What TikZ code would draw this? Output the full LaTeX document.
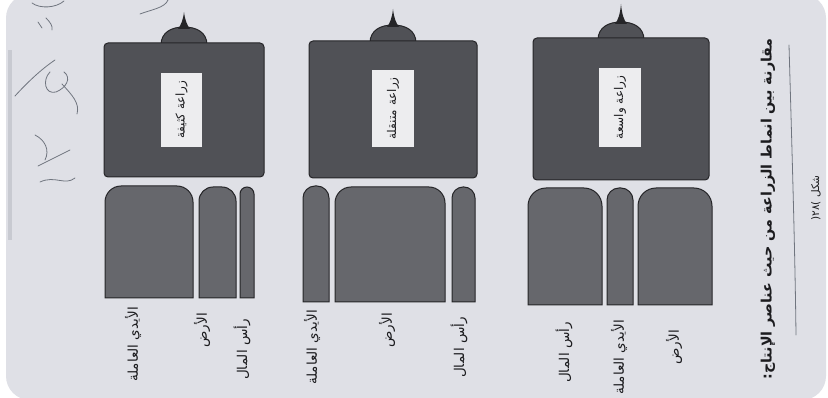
\documentclass[tikz,border=0pt]{standalone}
\usepackage{fontspec}
\newfontfamily\arabicfont[Script=Arabic]{DejaVu Sans}
\TeXXeTstate=1
\definecolor{pagec}{HTML}{DFE0E6}
\definecolor{bodyc}{HTML}{505156}
\definecolor{barc}{HTML}{66676C}
\definecolor{edgec}{HTML}{252528}
\definecolor{boxc}{HTML}{EDEDEF}
\definecolor{inkc}{HTML}{1C1C1F}
\definecolor{pencilc}{HTML}{70757F}
\newcommand\artxt[1]{\beginR #1\endR}
\newcommand\tbar[5]{%
  \draw[barst] ({#1},{#4}) -- ({#1},{#3+#5}) .. controls ({#1},{#3+0.45*#5}) and ({#1+0.45*#5},{#3}) .. ({#1+#5},{#3})
   -- ({#2-#5},{#3}) .. controls ({#2-0.45*#5},{#3}) and ({#2},{#3+0.45*#5}) .. ({#2},{#3+#5}) -- ({#2},{#4}) -- cycle;}
\newcommand\pencilbody[5]{% x1 y1 x2 y2 tip-height
  \pgfmathsetmacro\cx{(#1+#3)/2}
  \draw[bodyst] ({\cx-23},{#2+2}) .. controls ({\cx-23},{#2-11}) and ({\cx-12},{#2-16}) .. ({\cx},{#2-16})
     .. controls ({\cx+12},{#2-16}) and ({\cx+23},{#2-11}) .. ({\cx+23},{#2+2}) -- cycle;
  \fill[edgec] ({\cx-6},{#2-14}) .. controls ({\cx-3},{#2-18}) and ({\cx-1},{#2-23}) .. ({\cx},{#2-14-#5})
     .. controls ({\cx+1},{#2-23}) and ({\cx+3},{#2-18}) .. ({\cx+6},{#2-14}) -- cycle;
  \draw[bodyst, rounded corners=4pt] (#1,#2) rectangle (#3,#4);}
\tikzset{
  bodyst/.style={fill=bodyc, draw=edgec, line width=1pt},
  barst/.style={fill=barc, draw=edgec, line width=1pt},
  boxst/.style={fill=boxc, draw=none},
  boxtxt/.style={font=\arabicfont\fontsize{12}{14}\selectfont, text=inkc, rotate=90, inner sep=0pt},
  lbl/.style={font=\arabicfont\fontsize{13.5}{15}\selectfont, text=inkc, rotate=90, inner sep=0pt, anchor=east},
  pencil/.style={draw=pencilc, line width=0.8pt, line cap=round, line join=round}
}
\begin{document}
\begin{tikzpicture}[x=1pt,y=-1pt]
\useasboundingbox (0,0) rectangle (828,398);
\fill[white] (0,0) rectangle (828,398);
\fill[pagec, rounded corners=24pt] (6,-6) rectangle (826,400);
\fill[pencilc, opacity=0.2] (8,50) rectangle (12,240);

% pencil bodies
\pencilbody{104}{43}{264}{177}{17}
\pencilbody{309}{41}{477}{178}{18}
\pencilbody{533}{38}{709}{180}{20}

% label boxes
\fill[boxst] (161,73) rectangle (202,147);
\fill[boxst] (372,70) rectangle (414,147);
\fill[boxst] (599,68) rectangle (641,147);
\node[boxtxt] (k1) at (181.5,110) {\artxt{زراعة كثيفة}};
\node[boxtxt] (k2) at (393,108.5) {\artxt{زراعة متنقلة}};
\node[boxtxt] (k3) at (620,107.5) {\artxt{زراعة واسعة}};

% bars group 1 (intensive)
\tbar{105}{193}{186}{298}{16}
\tbar{199}{236}{187}{298}{14}
\tbar{240}{254}{187}{298}{7}
% bars group 2 (shifting)
\tbar{303}{329}{186}{302}{12}
\tbar{335}{445}{187}{302}{16}
\tbar{452}{475}{187}{302}{11}
% bars group 3 (extensive)
\tbar{528}{602}{188}{305}{18}
\tbar{607}{633}{188}{305}{12}
\tbar{638}{712}{188}{305}{18}

% bar labels
\node[lbl] (a1) at (133,307) {\artxt{الأيدي العاملة}};
\node[lbl] (a2) at (202,313) {\artxt{الأرض}};
\node[lbl] (a3) at (242,319) {\artxt{رأس المال}};
\node[lbl] (b1) at (312,310) {\artxt{الأيدي العاملة}};
\node[lbl] (b2) at (387,313) {\artxt{الأرض}};
\node[lbl] (b3) at (459,317) {\artxt{رأس المال}};
\node[lbl] (c1) at (564,322) {\artxt{رأس المال}};
\node[lbl] (c2) at (619,320) {\artxt{الأيدي العاملة}};
\node[lbl] (c3) at (674,330) {\artxt{الأرض}};

% title and caption
\node[lbl, font=\arabicfont\bfseries\fontsize{14.3}{16}\selectfont] (title) at (768,38)
  {\artxt{مقارنة بين انماط الزراعة من حيث عناصر الإنتاج:}};
\node[boxtxt, font=\arabicfont\fontsize{10.5}{12}\selectfont] (cap) at (816,198)
  {\artxt{شكل )\beginL ٢٨\endL(}};

% pencil marks
\draw[pencil] (789,45) .. controls (792,150) and (795,250) .. (796,335);
\draw[pencil] (140,14) .. controls (150,10) and (165,8) .. (168,0);
\draw[pencil] (32,3) .. controls (40,9) and (56,8) .. (64,1);
\draw[pencil] (38,22) -- (42,28);
\draw[pencil] (46,18) .. controls (50,22) and (53,26) .. (52,30);
\draw[pencil] (15,96) .. controls (25,85) and (40,70) .. (55,60);
\draw[pencil] (50,72) .. controls (42,80) and (45,95) .. (56,92) .. controls (66,88) and (72,78) .. (64,72);
\draw[pencil] (62,84) .. controls (72,95) and (80,103) .. (77,114);
\draw[pencil] (35,135) .. controls (45,140) and (50,150) .. (45,160);
\draw[pencil] (38,166) -- (70,150);
\draw[pencil] (40,182) .. controls (55,175) and (65,186) .. (75,178);
\end{tikzpicture}
\end{document}
